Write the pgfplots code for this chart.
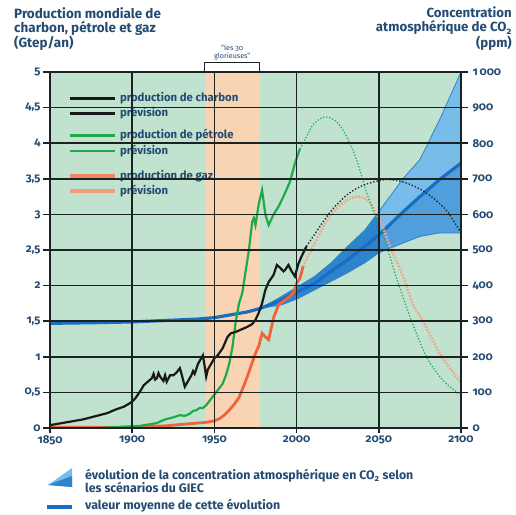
\documentclass[border=0pt]{standalone}
\usepackage{fontspec}
\setmainfont{Fira Sans}[Numbers=OldStyle]
\usepackage{pgfplots}
\usepackage{pgfplotstable}
\pgfplotsset{compat=1.18}
\usetikzlibrary{calc}

\definecolor{bggreen}{RGB}{192,226,206}
\definecolor{bgorange}{RGB}{249,212,178}
\definecolor{txtblue}{RGB}{35,75,115}
\definecolor{oilgreen}{RGB}{30,170,75}
\definecolor{oilgreenf}{RGB}{30,175,110}
\definecolor{gasred}{RGB}{240,100,60}
\definecolor{gaslight}{RGB}{242,165,135}
\definecolor{co2blue}{RGB}{25,110,195}
\definecolor{fanlight}{RGB}{120,188,234}
\definecolor{fanmid}{RGB}{80,158,220}
\definecolor{fandark}{RGB}{45,132,205}
\definecolor{gridc}{RGB}{25,35,35}

\newcommand\tlfont{\bfseries\fontsize{11.5}{12}\selectfont}

% coal production (Gtep/an)
\pgfplotstableread{
year val
1850 0.04
1855 0.06
1860 0.08
1865 0.10
1870 0.12
1875 0.15
1880 0.18
1885 0.21
1890 0.26
1895 0.30
1898 0.34
1900 0.37
1902 0.42
1905 0.52
1907 0.60
1910 0.66
1912 0.70
1913 0.76
1914 0.68
1915 0.70
1916 0.77
1917 0.72
1919 0.66
1920 0.74
1921 0.65
1923 0.74
1925 0.74
1927 0.78
1929 0.84
1930 0.76
1932 0.58
1934 0.66
1936 0.74
1937 0.80
1938 0.76
1940 0.90
1942 0.98
1943 1.02
1944 0.88
1945 0.72
1946 0.82
1948 0.90
1950 0.98
1952 1.02
1955 1.12
1958 1.28
1960 1.33
1963 1.35
1966 1.38
1970 1.42
1973 1.46
1975 1.52
1977 1.62
1979 1.75
1981 1.94
1983 2.05
1986 2.15
1988 2.29
1990 2.25
1992 2.20
1993 2.22
1995 2.29
1997 2.20
1999 2.13
2001 2.30
2003 2.41
2006 2.55
}\coal
\pgfplotstableread{
year val
2006 2.55
2020 3.02
2030.5 3.27
2040.6 3.41
2054.8 3.49
2067 3.44
2079 3.30
2091 3.06
2100 2.74
}\coalf
% oil production
\pgfplotstableread{
year val
1880 0.00
1900 0.02
1905 0.03
1910 0.05
1915 0.07
1920 0.12
1925 0.15
1929 0.18
1932 0.17
1935 0.20
1937 0.24
1939 0.25
1941 0.28
1943 0.28
1945 0.32
1947 0.38
1949 0.44
1951 0.50
1953 0.56
1955 0.62
1957 0.74
1959 0.90
1961 1.14
1963 1.50
1965 1.75
1967 1.90
1969 2.20
1971 2.50
1973 2.90
1974 2.95
1975 2.85
1976 3.00
1977 3.15
1979 3.34
1981 3.00
1983 2.85
1986 3.00
1989 3.11
1992 3.25
1996 3.46
1999 3.72
2002 3.92
}\oil
\pgfplotstableread{
year val
2002 3.92
2006 4.09
2010 4.26
2017 4.37
2024.5 4.30
2030.5 4.09
2036.6 3.76
2042.7 3.30
2048.8 2.92
2054.8 2.55
2060.9 2.10
2069 1.56
2079 1.00
2089 0.67
2100 0.46
}\oilf
% gas production
\pgfplotstableread{
year val
1850 0.01
1890 0.01
1900 0.02
1920 0.03
1930 0.05
1940 0.07
1945 0.08
1950 0.10
1953 0.13
1956 0.18
1959 0.25
1962 0.33
1965 0.43
1968 0.60
1970 0.72
1973 0.92
1975 1.05
1977 1.15
1979 1.33
1981 1.28
1983 1.24
1986 1.55
1989 1.73
1993 1.80
1996 1.85
1998 1.89
2000 2.03
2002 2.10
2004 2.27
}\gas
\pgfplotstableread{
year val
2004 2.27
2010 2.55
2020 2.97
2030.5 3.20
2038.6 3.25
2044.7 3.16
2050.8 2.92
2056.9 2.55
2064.9 2.12
2071 1.72
2077 1.50
2087 1.05
2100 0.63
}\gasf
% CO2 (ppm): mean and scenario envelope
\pgfplotstableread{
year ppm
1850 294
1880 296
1900 298
1920 302
1940 306
1950 310
1960 318
1970 326
1978 336
1991 360
2001 384
2011 406
2021 440
2031 472
2041.5 510
2050 542
2065 608
2075 650
2087 698
2100 744
}\cotwomean
\pgfplotstableread{
year up low
1978 336 336
1991 370 346
2001 398 364
2011 426 388
2021 464 412
2031 510 436
2041.5 556 464
2050 608 492
2065 702 520
2075 754 538
2087 866 548
2100 1000 548
}\cotwofan

\begin{document}
\begin{tikzpicture}
% background: green field and the "30 glorieuses" band
\begin{axis}[
  scale only axis, width=411bp, height=356bp,
  xmin=1850, xmax=2100, ymin=0, ymax=5, hide axis,
]
\fill[bggreen] (axis cs:1850,0) rectangle (axis cs:2100,5);
\fill[bgorange] (axis cs:1944,0) rectangle (axis cs:1977.7,5);
\end{axis}

% main axis: labels and data
\begin{axis}[
  scale only axis, width=411bp, height=356bp,
  xmin=1850, xmax=2100, ymin=0, ymax=5,
  xtick={1850,1900,1950,2000,2050,2100},
  ytick={0,0.5,1,1.5,2,2.5,3,3.5,4,4.5,5},
  ytick pos=left, xtick pos=bottom,
  major tick length=0pt,
  axis line style={draw=gridc, line width=1.5pt},
  tick label style={font=\tlfont, text=txtblue},
  /pgf/number format/assume math mode=true,
  yticklabel style={xshift=-6bp, /pgf/number format/.cd, fixed, use comma, precision=1},
  xticklabel style={yshift=-4bp, /pgf/number format/1000 sep={}},
]
% CO2 scenario envelope (ppm, shown on the right scale = left x 200)
\addplot[fill=fandark, draw=none, y filter/.expression={y/200}] coordinates {
 (1978,336) (1991,370) (2001,398) (2011,426) (2021,464) (2031,510) (2041.5,556) (2050,608)
 (2050,492) (2041.5,464) (2031,436) (2021,412) (2011,388) (2001,364) (1991,346) (1978,336)} -- cycle;
\addplot[fill=fanlight, draw=none, y filter/.expression={y/200}] coordinates {
 (2050,608) (2065,702) (2075,754) (2087,866) (2100,1000)
 (2100,548) (2087,548) (2075,538) (2065,520) (2050,492)} -- cycle;
\addplot[fill=fanmid, draw=none, y filter/.expression={y/200}] coordinates {
 (2050,542) (2065,608) (2075,650) (2087,698) (2100,744)
 (2100,548) (2087,548) (2075,538) (2065,520) (2050,492)} -- cycle;
\addplot[draw=fandark, line width=0.8pt] table[x=year, y expr=\thisrow{up}/200] {\cotwofan};
\addplot[draw=fandark, line width=0.8pt] table[x=year, y expr=\thisrow{low}/200] {\cotwofan};
\addplot[co2blue, line width=3.2pt] table[x=year, y expr=\thisrow{ppm}/200] {\cotwomean};

% forecasts
\addplot[gaslight, line width=2.6pt, smooth, dash pattern=on 1.6pt off 1.6pt] table[x=year,y=val] {\gasf};
\addplot[oilgreenf, line width=1.3pt, smooth, dash pattern=on 1.3pt off 1.8pt] table[x=year,y=val] {\oilf};
\addplot[gridc, line width=1.4pt, smooth, dash pattern=on 1.3pt off 2pt] table[x=year,y=val] {\coalf};

% production
\addplot[gasred, line width=2.8pt] table[x=year,y=val] {\gas};
\addplot[oilgreen, line width=2.2pt] table[x=year,y=val] {\oil};
\addplot[black!90, line width=2.2pt] table[x=year,y=val] {\coal};

% legend
\begin{scope}[every node/.style={anchor=west, text=txtblue, font=\bfseries\fontsize{11.4}{12}\selectfont, inner sep=0pt}]
\draw[black!90, line width=2.8pt] (axis cs:1862,4.63) -- (axis cs:1889.5,4.63);
\node at (axis cs:1892.5,4.63) {production de charbon};
\draw[black!90, line width=2.8pt] (axis cs:1862,4.42) -- (axis cs:1889.5,4.42);
\node at (axis cs:1892.5,4.42) {prévision};
\draw[oilgreen, line width=2.8pt] (axis cs:1862,4.11) -- (axis cs:1889.5,4.11);
\node at (axis cs:1892.5,4.11) {production de pétrole};
\draw[oilgreen, line width=2.8pt] (axis cs:1862,3.89) -- (axis cs:1889.5,3.89);
\node at (axis cs:1892.5,3.89) {prévision};
\draw[gasred!80!white, line width=4.5pt] (axis cs:1862,3.54) -- (axis cs:1889.5,3.54);
\node at (axis cs:1892.5,3.54) {production de gaz};
\draw[gaslight!90!gasred, line width=4.5pt] (axis cs:1862,3.33) -- (axis cs:1889.5,3.33);
\node at (axis cs:1892.5,3.33) {prévision};
\end{scope}

\coordinate (gl) at (axis cs:1944,5);
\coordinate (gr) at (axis cs:1977.7,5);
\end{axis}

% grid on top, outward ticks, ppm labels on the right
\begin{axis}[
  scale only axis, width=411bp, height=356bp,
  xmin=1850, xmax=2100, ymin=0, ymax=1000,
  xtick=\empty,
  ytick={0,100,200,300,400,500,600,700,800,900,1000},
  ytick pos=both, yticklabel pos=right,
  tick align=outside,
  major tick length=7bp,
  tick style={draw=gridc, line width=1.5pt},
  axis line style={draw=gridc, line width=1.5pt},
  tick label style={font=\tlfont, text=txtblue},
  /pgf/number format/assume math mode=true,
  yticklabel style={xshift=1bp, /pgf/number format/1000 sep={\,}},
  clip=false,
]
\pgfplotsinvokeforeach{1850,1900,1950,2000,2050,2100}{
  \draw[gridc, line width=1.5pt] ([yshift=-5bp]axis cs:#1,0) -- (axis cs:#1,1000);
}
\pgfplotsinvokeforeach{100,200,300,400,500,600,700,800,900}{
  \draw[gridc, line width=1.5pt] (axis cs:1850,#1) -- (axis cs:2100,#1);
}
\end{axis}

% bracket "les 30 glorieuses"
\draw[gridc, line width=1pt] (gl) -- ++(0,10bp) -| (gr);
\node[text=txtblue, font=\fontsize{7.2}{7.5}\selectfont, align=center, anchor=south, inner sep=1pt]
  at ($(gl)!0.5!(gr)+(0,11bp)$) {“les 30\\glorieuses”};

% titles
\node[anchor=north west, align=left, text=txtblue, font=\bfseries\fontsize{13.5}{14.3}\selectfont, inner sep=0pt]
  at (-36bp,421bp) {Production mondiale de\\charbon, pétrole et gaz\\(Gtep/an)};
\node[anchor=north east, align=right, text=txtblue, font=\bfseries\fontsize{13.3}{14}\selectfont, inner sep=0pt]
  at (462bp,421bp) {Concentration\\atmosphérique de CO\textsubscript{2}\\(ppm)};

% bottom legend
\fill[fanlight] (-2bp,-57bp) -- (22bp,-40bp) -- (22bp,-59bp) -- cycle;
\fill[fandark] (-2bp,-57bp) -- (22bp,-48bp) -- (22bp,-59bp) -- cycle;
\node[anchor=north west, align=left, text=txtblue, font=\bfseries\fontsize{12.4}{13.2}\selectfont, inner sep=0pt]
  at (35bp,-41bp) {évolution de la concentration atmosphérique en CO\textsubscript{2} selon\\les scénarios du GIEC};
\draw[co2blue, line width=4pt] (-3bp,-79bp) -- (22bp,-79bp);
\node[anchor=west, text=txtblue, font=\bfseries\fontsize{12.4}{13.2}\selectfont, inner sep=0pt]
  at (35bp,-77.5bp) {valeur moyenne de cette évolution};

\pgfresetboundingbox
\path (-50bp,-87bp) rectangle (466bp,428bp);
\end{tikzpicture}
\end{document}
